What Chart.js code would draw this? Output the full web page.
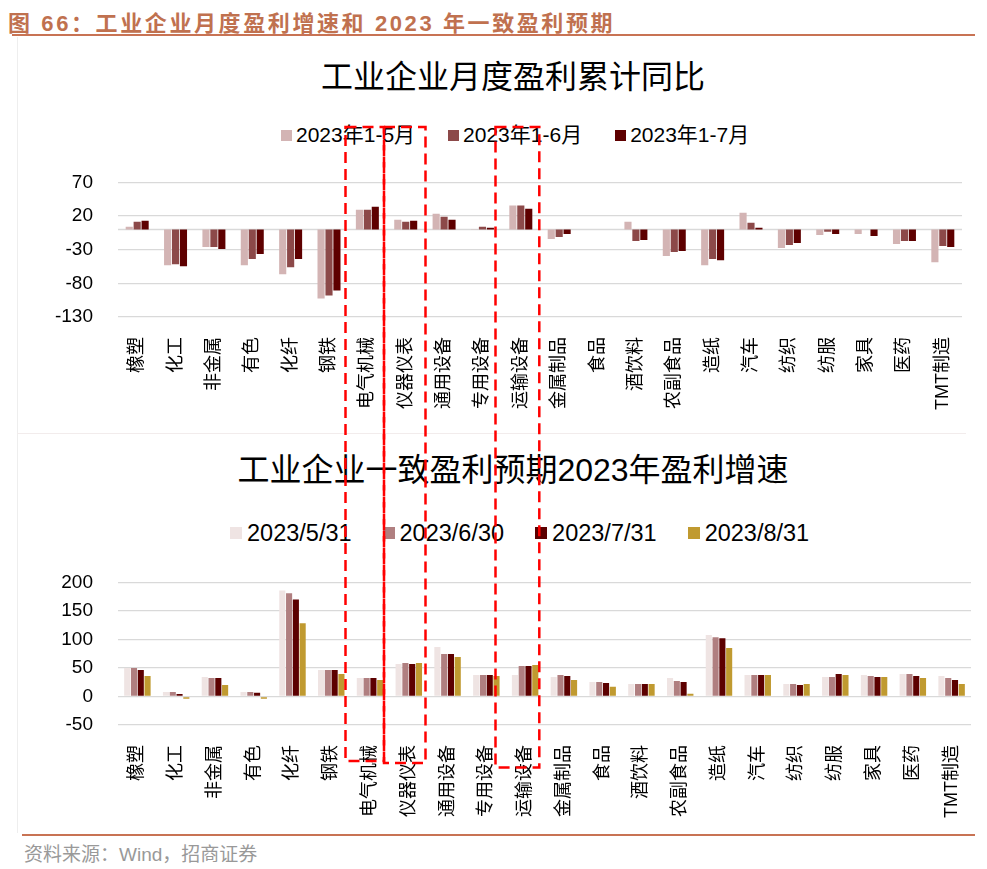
<!DOCTYPE html>
<html>
<head>
<meta charset="utf-8">
<script src="https://cdn.jsdelivr.net/npm/chart.js@4.4.0/dist/chart.umd.min.js"></script>
<style>
body { margin: 0; width: 987px; height: 869px; background: #fff; position: relative; overflow: hidden;
       font-family: 'Liberation Sans', 'Noto Sans CJK SC', sans-serif; }
.abs { position: absolute; }
#head { left: 8px; top: 5px; font-size: 22px; font-weight: bold; color: #c0714f; letter-spacing: 2.6px; white-space: nowrap; }
#headLine { left: 12px; top: 34px; width: 963px; border-top: 2.5px solid #c87354; }
#footLine { left: 22px; top: 834px; width: 953px; border-top: 2px solid #c87354; }
#foot { left: 24px; top: 839px; font-size: 19px; color: #999; white-space: nowrap; }
#frameV { left: 17px; top: 37px; height: 796px; border-left: 1px solid #eeeeee; }
#frameH { left: 17px; top: 433px; width: 949px; border-top: 1.5px solid #f2ecec; }
.title { left: 13px; width: 1000px; text-align: center; font-size: 32px; line-height: 40px; color: #000; white-space: nowrap; }
.legend { display: flex; align-items: center; white-space: nowrap; color: #000; }
.legend span.box { display: inline-block; }
.wrap { left: 39px; width: 948px; }
.wrap canvas { display: block; }
#marks { left: 0; top: 0; pointer-events: none; }
</style>
</head>
<body>
<div id="head" class="abs">图 66：工业企业月度盈利增速和 2023 年一致盈利预期</div>
<div id="headLine" class="abs"></div>
<div id="frameV" class="abs"></div>
<div id="frameH" class="abs"></div>

<div class="abs title" style="top:57px">工业企业月度盈利累计同比</div>
<div id="legendTop" class="abs legend" style="left:281px;top:123px;font-size:21px;line-height:24px"></div>
<div class="abs wrap" style="top:146px;height:285px"><canvas id="top"></canvas></div>

<div class="abs title" style="top:450px">工业企业一致盈利预期2023年盈利增速</div>
<div id="legendBottom" class="abs legend" style="left:230px;top:520px;font-size:23.5px;line-height:26px"></div>
<div class="abs wrap" style="top:546px;height:279px"><canvas id="bottom"></canvas></div>

<div id="footLine" class="abs"></div>
<div id="foot" class="abs">资料来源：Wind，招商证券</div>

<svg id="marks" class="abs" width="987" height="869">
  <g fill="none" stroke="#ff0000" stroke-width="2.5" stroke-dasharray="11 6">
    <rect x="345.5" y="127" width="38.5" height="634"/>
    <rect x="384" y="127" width="41.5" height="636"/>
    <rect x="495.5" y="127" width="43.8" height="640.5"/>
  </g>
</svg>

<script>
var categories = ['橡塑', '化工', '非金属', '有色', '化纤', '钢铁', '电气机械', '仪器仪表', '通用设备', '专用设备', '运输设备',
                  '金属制品', '食品', '酒饮料', '农副食品', '造纸', '汽车', '纺织', '纺服', '家具', '医药', 'TMT制造'];

// 月度盈利累计同比 (%)
var cumLabels = ['2023年1-5月', '2023年1-6月', '2023年1-7月'];
var cum1to5 = [4, -53, -26, -53, -66.5, -102.5, 29.5, 14.5, 23.5, 0.3, 35.5, -14, 0, 11.5, -39.5, -53, 25, -27.5, -8, -6.5, -21.5, -48.5];
var cum1to6 = [11.5, -51.5, -26, -44, -56, -98, 29.5, 11.5, 19, 4, 35.5, -11, 0, -17, -33.5, -44, 10, -23, -3.5, 0, -17, -24.5];
var cum1to7 = [13, -54.5, -29, -36.5, -44, -90.5, 34, 13, 14.5, 2.5, 31, -6.5, 0, -15.5, -32, -45.5, 2.5, -20, -6.5, -9.5, -17, -26];

// 一致盈利预期 2023 年盈利增速 (%)
var fcLabels = ['2023/5/31', '2023/6/30', '2023/7/31', '2023/8/31'];
var fc0531 = [50, 8, 34, 8, 186, 46.5, 32.5, 57, 86.6, 37.8, 37.8, 34.3, 25.6, 22, 32.6, 107.6, 37.8, 22, 34.3, 37.8, 39.5, 36];
var fc0630 = [50, 8, 32.5, 8, 181, 46.5, 32.5, 58.7, 74.4, 37.8, 53.5, 37.8, 25.6, 22, 27.3, 104, 37.8, 22, 34.3, 36, 39.5, 32.6];
var fc0731 = [46.5, 4.5, 32.5, 6.5, 170, 46.5, 32.5, 57, 74.4, 37.8, 53.5, 36, 23.8, 22, 25.6, 102.3, 37.8, 20.3, 39.5, 34.3, 36, 29];
var fc0831 = [36, -4, 20, -4, 128.5, 39.5, 29, 58.7, 69.2, 36, 55.2, 29, 16.9, 22, 4.7, 84.9, 37.8, 22, 37.8, 34.3, 32.6, 22];

var topTicks = { min: -130, max: 70, step: 50 };
var bottomTicks = { min: -50, max: 200, step: 50 };

var numFont = "'Liberation Sans', 'Noto Sans CJK SC', sans-serif";

// x axis line at 0 for the top chart (category axis crosses at zero)
var zeroLine = {
    id: 'zeroLine',
    beforeDatasetsDraw: function(chart) {
        var ctx = chart.ctx, area = chart.chartArea;
        var y = chart.scales.y.getPixelForValue(0);
        ctx.save();
        ctx.strokeStyle = '#d9d9d9';
        ctx.lineWidth = 1.5;
        ctx.beginPath();
        ctx.moveTo(area.left, y);
        ctx.lineTo(area.right, y);
        ctx.stroke();
        ctx.restore();
    }
};

function makeChart(id, sets, ticks, opts) {
    return new Chart(document.getElementById(id), {
        type: 'bar',
        data: { labels: categories, datasets: sets },
        plugins: opts.plugins || [],
        options: {
            responsive: true,
            maintainAspectRatio: false,
            animation: false,
            layout: { autoPadding: false, padding: { top: 12, right: opts.padRight, left: 0, bottom: 0 } },
            plugins: { legend: { display: false }, title: { display: false }, tooltip: { enabled: false } },
            datasets: { bar: { categoryPercentage: opts.catPct, barPercentage: 0.9 } },
            scales: {
                x: {
                    grid: { display: false },
                    border: { display: false },
                    afterFit: function(s) { s.height = opts.xHeight; },
                    ticks: {
                        autoSkip: false, minRotation: 90, maxRotation: 90, padding: 12,
                        color: '#000', font: { family: numFont, size: 18 }
                    }
                },
                y: {
                    min: ticks.min, max: ticks.max,
                    afterFit: function(s) { s.width = 79; },
                    grid: { color: '#d9d9d9', lineWidth: 1.3, drawTicks: false },
                    border: { display: false },
                    ticks: { stepSize: ticks.step, autoSkip: false, padding: 25, color: '#000', font: { family: numFont, size: 19 } }
                }
            }
        }
    });
}

var topChart = makeChart('top', [
    { label: cumLabels[0], data: cum1to5, backgroundColor: '#d3b4b4' },
    { label: cumLabels[1], data: cum1to6, backgroundColor: '#8c4949' },
    { label: cumLabels[2], data: cum1to7, backgroundColor: '#5e0000' }
], topTicks, { padRight: 25, xHeight: 114, catPct: 0.62, plugins: [zeroLine] });

var bottomChart = makeChart('bottom', [
    { label: fcLabels[0], data: fc0531, backgroundColor: '#efe4e3' },
    { label: fcLabels[1], data: fc0630, backgroundColor: '#b07f80' },
    { label: fcLabels[2], data: fc0731, backgroundColor: '#5c0000' },
    { label: fcLabels[3], data: fc0831, backgroundColor: '#c09a30' }
], bottomTicks, { padRight: 16, xHeight: 100, catPct: 0.7 });

// html legend, built from the chart datasets
function buildLegend(chart, el, box, gap, spacing) {
    var html = [];
    chart.data.datasets.forEach(function(ds, i) {
        var last = i === chart.data.datasets.length - 1;
        html.push('<span class="box" style="width:' + box + 'px;height:' + box + 'px;margin-right:' + gap +
                  'px;background:' + ds.backgroundColor + '"></span>');
        html.push('<span style="margin-right:' + (last ? 0 : spacing) + 'px">' + ds.label + '</span>');
    });
    document.getElementById(el).innerHTML = html.join('');
}
buildLegend(topChart, 'legendTop', 11, 4, 33);
buildLegend(bottomChart, 'legendBottom', 12, 5, 31);
</script>
</body>
</html>
